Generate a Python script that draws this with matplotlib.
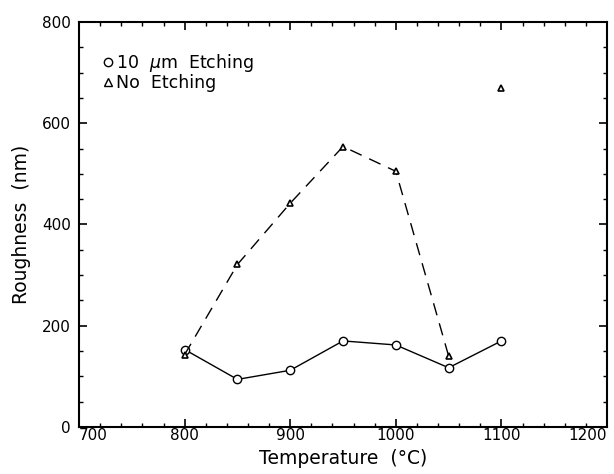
import numpy as np
import matplotlib
matplotlib.use('Agg')
import matplotlib.pyplot as plt
from matplotlib.lines import Line2D
from matplotlib.ticker import MultipleLocator

# data
temp = [800, 850, 900, 950, 1000, 1050, 1100]
rough_etch = [153, 94, 112, 170, 162, 117, 170]
temp_noetch = [800, 850, 900, 950, 1000, 1050]
rough_noetch = [143, 321, 442, 554, 505, 140]
temp_outlier = [1100]
rough_outlier = [670]

xticks = [700, 800, 900, 1000, 1100, 1200]
yticks = [0, 200, 400, 600, 800]

plt.rcParams['font.family'] = 'DejaVu Sans'

fig = plt.figure(figsize=(6.14, 4.74), dpi=100)
ax = fig.add_axes([0.1287, 0.0992, 0.86, 0.8544])

ax.plot(temp, rough_etch, '-', color='black', lw=1.0, marker='o', ms=6,
        mfc='white', mec='black', mew=1.0)
ax.plot(temp_noetch, rough_noetch, linestyle=(0, (9, 6)), color='black', lw=1.0,
        marker='^', ms=4, mfc='white', mec='black', mew=1.2)
ax.plot(temp_outlier, rough_outlier, linestyle='none', marker='^', ms=4,
        mfc='white', mec='black', mew=1.2)

ax.set_xticks(xticks, labels=[str(t) for t in xticks])
ax.set_yticks(yticks, labels=[str(t) for t in yticks])
ax.set_xlim(700, 1200)
ax.set_ylim(0, 800)
ax.xaxis.set_minor_locator(MultipleLocator(20))
ax.yaxis.set_minor_locator(MultipleLocator(50))
ax.tick_params(which='both', direction='in', top=True, right=True, labelsize=11)
ax.tick_params(which='major', length=6, width=1.2)
ax.tick_params(which='minor', length=3, width=1.0)
ax.tick_params(axis='x', pad=1)
ax.tick_params(axis='y', pad=6)
for s in ax.spines.values():
    s.set_linewidth(1.5)

# edge labels pulled inward as in the original
xt = ax.xaxis.get_major_ticks()
xt[0].label1.set_horizontalalignment('left')
xt[-1].label1.set_horizontalalignment('right')

ax.set_xlabel('Temperature  (°C)', fontsize=13.5, labelpad=4)
ax.set_ylabel('Roughness  (nm)', fontsize=13.5, labelpad=8)

handles = [
    Line2D([], [], ls='none', marker='o', ms=6, mfc='white', mec='black', mew=1.0),
    Line2D([], [], ls='none', marker='^', ms=6, mfc='white', mec='black', mew=1.0),
]
ax.legend(handles, [r'10  $\mu$m  Etching', 'No  Etching'], loc='upper left',
          frameon=False, handlelength=0.8, handletextpad=0.1, labelspacing=0.0,
          fontsize=12.5, bbox_to_anchor=(0.018, 0.955), borderaxespad=0.3)

fig.savefig('out.png', dpi=100)
